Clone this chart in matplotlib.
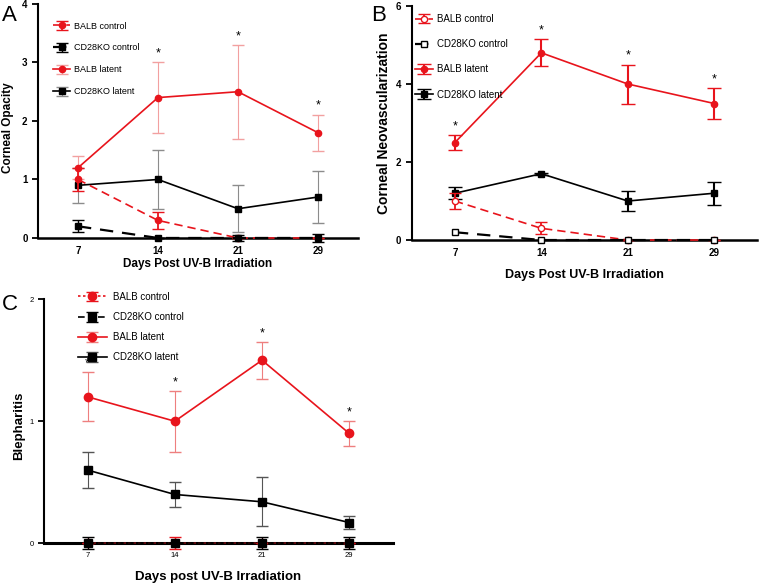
import numpy as np
import matplotlib.pyplot as plt

plt.rcParams['font.family'] = ['Liberation Sans', 'DejaVu Sans']

# hari setelah iradiasi (kategori sumbu x)
days = ["7", "14", "21", "29"]
x = np.arange(len(days))

# A - Corneal Opacity
opa_balb_ctrl = [1.0, 0.3, 0.0, 0.0]
opa_balb_ctrl_err = [0.2, 0.15, 0.0, 0.0]
opa_cd28_ctrl = [0.2, 0.0, 0.0, 0.0]
opa_cd28_ctrl_err = [0.1, 0.0, 0.05, 0.07]
opa_balb_lat = [1.2, 2.4, 2.5, 1.8]
opa_balb_lat_err = [0.2, 0.6, 0.8, 0.31]
opa_cd28_lat = [0.9, 1.0, 0.5, 0.7]
opa_cd28_lat_err = [0.3, 0.5, 0.4, 0.45]
opa_star = [0, 1, 1, 1]

# B - Corneal Neovascularization
neo_balb_ctrl = [1.0, 0.3, 0.0, 0.0]
neo_balb_ctrl_err = [0.2, 0.15, 0.0, 0.0]
neo_cd28_ctrl = [0.2, 0.0, 0.0, 0.0]
neo_balb_lat = [2.5, 4.8, 4.0, 3.5]
neo_balb_lat_err = [0.2, 0.35, 0.5, 0.4]
neo_cd28_lat = [1.2, 1.7, 1.0, 1.2]
neo_cd28_lat_err = [0.15, 0.03, 0.25, 0.3]
neo_star = [1, 1, 1, 1]

# C - Blepharitis
ble_balb_ctrl = [0.0, 0.0, 0.0, 0.0]
ble_balb_ctrl_err = [0.0, 0.05, 0.0, 0.0]
ble_cd28_ctrl = [0.0, 0.0, 0.0, 0.0]
ble_cd28_ctrl_err = [0.05, 0.0, 0.05, 0.05]
ble_balb_lat = [1.2, 1.0, 1.5, 0.9]
ble_balb_lat_err = [0.2, 0.25, 0.15, 0.1]
ble_cd28_lat = [0.6, 0.4, 0.34, 0.17]
ble_cd28_lat_err = [0.15, 0.1, 0.2, 0.05]
ble_star = [1, 1, 1, 1]

RED = "#e8141c"


def garis(ax, y, err, color, ecolor, marker, mfc="same", dashes=None, lw=1.2,
          elw=0.8, cap=4, ms=4.5, label=None, z=3):
    if mfc == "same":
        mfc = color
    kw = {}
    if dashes is not None:
        kw["dashes"] = dashes
    eb = ax.errorbar(x, y, yerr=err, color=color, ecolor=ecolor, lw=lw,
                     marker=marker, ms=ms, mfc=mfc, mec=color, mew=1.0,
                     elinewidth=elw, capsize=cap, capthick=elw, label=label,
                     zorder=z, clip_on=False, **kw)
    return eb


def bintang(ax, y, err, flags, off=2):
    for xi, yi, ei, f in zip(x, y, err, flags):
        if f:
            ax.annotate("*", (xi, yi + ei), xytext=(0, off), textcoords="offset points",
                        ha="center", va="bottom", fontsize=9)


def rapikan(ax, ymax, step, bold=True, tsize=7):
    ax.set_xlim(-0.5, 3.5)
    ax.set_ylim(0, ymax)
    ax.set_xticks(x)
    ax.set_xticklabels(days)
    ax.set_yticks(np.arange(0, ymax + 0.01, step))
    ax.spines["top"].set_visible(False)
    ax.spines["right"].set_visible(False)
    ax.spines["left"].set_linewidth(1.5)
    ax.spines["bottom"].set_linewidth(1.8)
    ax.tick_params(axis="x", length=0, pad=6, labelsize=tsize)
    ax.tick_params(axis="y", length=4, width=1.3, labelsize=tsize)
    w = "bold" if bold else "normal"
    for t in ax.get_xticklabels() + ax.get_yticklabels():
        t.set_fontweight(w)


fig = plt.figure(figsize=(7.6, 5.84), dpi=100)

# ---------- panel A ----------
axA = fig.add_axes([0.05, 0.5925, 0.421, 0.4007])
garis(axA, opa_cd28_lat, opa_cd28_lat_err, "black", "#8c8c8c", "s", label="CD28KO latent", z=3)
garis(axA, opa_balb_lat, opa_balb_lat_err, RED, "#f2a0a0", "o", label="BALB latent", z=4)
garis(axA, opa_balb_ctrl, opa_balb_ctrl_err, RED, RED, "o", dashes=(5, 3), elw=1.3,
      label="BALB control", z=5)
garis(axA, opa_cd28_ctrl, opa_cd28_ctrl_err, "black", "black", "s", dashes=(6, 4), lw=1.6,
      elw=1.0, label="CD28KO control", z=6)
bintang(axA, opa_balb_lat, opa_balb_lat_err, opa_star)
rapikan(axA, 4, 1)
axA.set_ylabel("Corneal Opacity", fontsize=8.5, fontweight="bold")
axA.yaxis.set_label_coords(-0.075, 0.47)
axA.set_xlabel("Days Post UV-B Irradiation", fontsize=8.5, fontweight="bold")
axA.xaxis.set_label_coords(0.5, -0.085)
h, l = axA.get_legend_handles_labels()
urut = [2, 3, 1, 0]
axA.legend([h[i] for i in urut], [l[i] for i in urut], loc="upper left",
           bbox_to_anchor=(0.047, 0.925), frameon=False, fontsize=6.5,
           handlelength=1.9, handletextpad=0.4, labelspacing=1.43,
           borderpad=0, borderaxespad=0, numpoints=1)

# ---------- panel B ----------
axB = fig.add_axes([0.5417, 0.589, 0.455, 0.4007])
garis(axB, neo_cd28_lat, neo_cd28_lat_err, "black", "black", "s", elw=1.5, cap=5,
      label="CD28KO latent", z=3)
garis(axB, neo_balb_lat, neo_balb_lat_err, RED, RED, "o", elw=1.5, cap=5,
      label="BALB latent", z=4)
garis(axB, neo_balb_ctrl, neo_balb_ctrl_err, RED, RED, "o", mfc="white", dashes=(5, 3),
      elw=1.3, label="BALB control", z=5)
garis(axB, neo_cd28_ctrl, None, "black", "black", "s", mfc="white", dashes=(6, 4), lw=1.6,
      label="CD28KO control", z=6)
bintang(axB, neo_balb_lat, neo_balb_lat_err, neo_star)
rapikan(axB, 6, 2)
axB.set_ylabel("Corneal Neovascularization", fontsize=10, fontweight="bold")
axB.yaxis.set_label_coords(-0.06, 0.5)
axB.set_xlabel("Days Post UV-B Irradiation", fontsize=9, fontweight="bold")
axB.xaxis.set_label_coords(0.5, -0.125)
h, l = axB.get_legend_handles_labels()
axB.legend([h[i] for i in urut], [l[i] for i in urut], loc="upper left",
           bbox_to_anchor=(0.01, 0.966), frameon=False, fontsize=7,
           handlelength=1.85, handletextpad=0.4, labelspacing=1.57,
           borderpad=0, borderaxespad=0, numpoints=1)

# ---------- panel C ----------
axC = fig.add_axes([0.0579, 0.0697, 0.459, 0.418])
garis(axC, ble_cd28_lat, ble_cd28_lat_err, "black", "#555555", "s", ms=6,
      label="CD28KO latent", z=3)
garis(axC, ble_balb_lat, ble_balb_lat_err, RED, "#ee7f7f", "o", ms=6,
      label="BALB latent", z=4)
garis(axC, ble_balb_ctrl, ble_balb_ctrl_err, RED, RED, "o", ms=6, dashes=(1.5, 1.5),
      label="BALB control", z=5)
garis(axC, ble_cd28_ctrl, ble_cd28_ctrl_err, "black", "black", "s", ms=6, dashes=(4, 2),
      label="CD28KO control", z=6)
bintang(axC, ble_balb_lat, ble_balb_lat_err, ble_star)
rapikan(axC, 2, 1, bold=False, tsize=5.5)
axC.spines["bottom"].set_linewidth(2.2)
axC.set_ylabel("Blepharitis", fontsize=9.5, fontweight="bold")
axC.yaxis.set_label_coords(-0.055, 0.48)
axC.set_xlabel("Days post UV-B Irradiation", fontsize=9.5, fontweight="bold")
axC.xaxis.set_label_coords(0.5, -0.115)
h, l = axC.get_legend_handles_labels()
axC.legend([h[i] for i in urut], [l[i] for i in urut], loc="upper left",
           bbox_to_anchor=(0.097, 1.03), frameon=False, fontsize=7,
           handlelength=3.0, handletextpad=0.6, labelspacing=1.05,
           borderpad=0, borderaxespad=0, numpoints=1)

# huruf panel
fig.text(0.002, 0.992, "A", fontsize=16, va="top")
fig.text(0.488, 0.992, "B", fontsize=16, va="top")
fig.text(0.002, 0.497, "C", fontsize=16, va="top")

fig.savefig("out.png", dpi=100)
